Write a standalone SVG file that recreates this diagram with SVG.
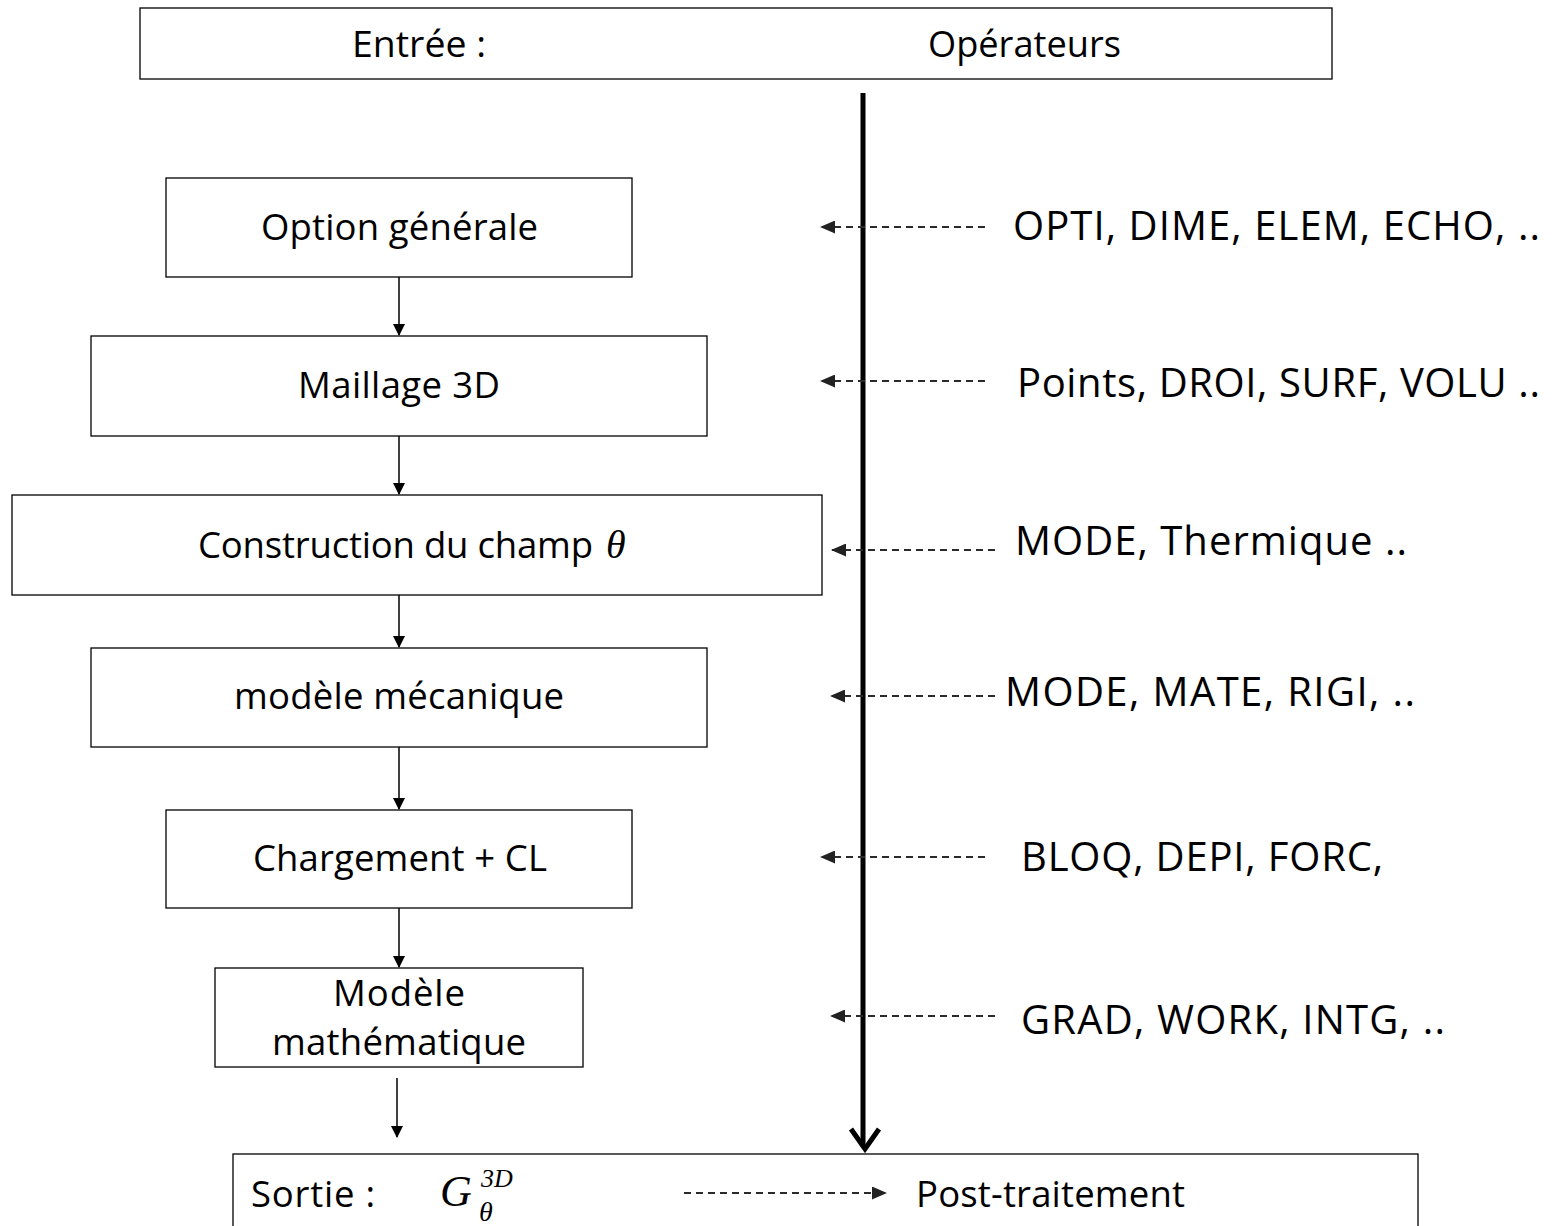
<svg xmlns="http://www.w3.org/2000/svg" width="1556" height="1226" viewBox="0 0 1556 1226">
<style>
.box{fill:#fff;stroke:#000;stroke-width:1.3}
.t{font-family:"Open Sans","Liberation Sans",sans-serif;font-size:36.5px;fill:#000}
.op{font-family:"Open Sans","Liberation Sans",sans-serif;font-size:40px;fill:#000}
.m{font-family:"Liberation Serif","DejaVu Serif",serif;font-style:italic;fill:#000}
.dash{stroke:#2a2a2a;stroke-width:1.8;stroke-dasharray:7 5;fill:none}
.flow{stroke:#000;stroke-width:1.5;fill:none}
</style>
<defs>
<marker id="ah" markerWidth="12" markerHeight="12" refX="11" refY="6" orient="auto" markerUnits="userSpaceOnUse" viewBox="0 0 12 12">
<path d="M0,0 L12,6 L0,12 Z" fill="#000"/>
</marker>
<marker id="dh" markerWidth="15" markerHeight="13" refX="14" refY="6.5" orient="auto" markerUnits="userSpaceOnUse" viewBox="0 0 15 13">
<path d="M0,0 L15,6.5 L0,13 Z" fill="#222"/>
</marker>
</defs>

<g id="header">
<rect class="box" x="140" y="8" width="1192" height="71"/>
<text class="t" x="352" y="57" textLength="134" lengthAdjust="spacingAndGlyphs">Entrée :</text>
<text class="t" x="928" y="57" textLength="193" lengthAdjust="spacingAndGlyphs">Opérateurs</text>
</g>

<g id="n1">
<rect class="box" x="166" y="178" width="466" height="99"/>
<text class="t" x="261" y="240" textLength="277">Option générale</text>
</g>
<g id="n2">
<rect class="box" x="91" y="336" width="616" height="100"/>
<text class="t" x="298" y="398" textLength="202">Maillage 3D</text>
</g>
<g id="n3">
<rect class="box" x="12" y="495" width="810" height="100"/>
<text class="t" x="198" y="558" textLength="395">Construction du champ</text>
<text class="m" x="606" y="558" font-size="40">θ</text>
</g>
<g id="n4">
<rect class="box" x="91" y="648" width="616" height="99"/>
<text class="t" x="234" y="709" textLength="330">modèle mécanique</text>
</g>
<g id="n5">
<rect class="box" x="166" y="810" width="466" height="98"/>
<text class="t" x="253" y="871" textLength="294">Chargement + CL</text>
</g>
<g id="n6">
<rect class="box" x="215" y="968" width="368" height="99"/>
<text class="t" x="333" y="1006" textLength="132">Modèle</text>
<text class="t" x="272" y="1055" textLength="254">mathématique</text>
</g>
<g id="n7">
<rect class="box" x="233" y="1154" width="1185" height="80"/>
<text class="t" x="251" y="1207" textLength="124">Sortie :</text>
<text class="m" x="440" y="1206" font-size="44">G</text>
<text class="m" x="481" y="1187" font-size="26">3D</text>
<text class="m" x="479" y="1221" font-size="28">θ</text>
<text class="t" x="916" y="1207" textLength="269">Post-traitement</text>
</g>

<g id="operators">
<text class="op" x="1013" y="240" textLength="527">OPTI, DIME, ELEM, ECHO, ..</text>
<text class="op" x="1017" y="397" textLength="523">Points, DROI, SURF, VOLU ..</text>
<text class="op" x="1015" y="555" textLength="392">MODE, Thermique ..</text>
<text class="op" x="1005" y="706" textLength="410">MODE, MATE, RIGI, ..</text>
<text class="op" x="1021" y="871" textLength="362">BLOQ, DEPI, FORC,</text>
<text class="op" x="1021" y="1034" textLength="424">GRAD, WORK, INTG, ..</text>
</g>

<g id="connectors">
<line x1="863" y1="93" x2="863" y2="1146" stroke="#000" stroke-width="5"/>
<polyline points="851,1129 865,1149 879,1129" fill="none" stroke="#000" stroke-width="5" stroke-linejoin="miter"/>
<line class="flow" x1="399" y1="277" x2="399" y2="335" marker-end="url(#ah)"/>
<line class="flow" x1="399" y1="436" x2="399" y2="494" marker-end="url(#ah)"/>
<line class="flow" x1="399" y1="595" x2="399" y2="647" marker-end="url(#ah)"/>
<line class="flow" x1="399" y1="747" x2="399" y2="809" marker-end="url(#ah)"/>
<line class="flow" x1="399" y1="908" x2="399" y2="967" marker-end="url(#ah)"/>
<line class="flow" x1="397" y1="1078" x2="397" y2="1137" marker-end="url(#ah)"/>
<line class="dash" x1="985" y1="227" x2="821" y2="227" marker-end="url(#dh)"/>
<line class="dash" x1="985" y1="381" x2="821" y2="381" marker-end="url(#dh)"/>
<line class="dash" x1="995" y1="550" x2="832" y2="550" marker-end="url(#dh)"/>
<line class="dash" x1="995" y1="696" x2="831" y2="696" marker-end="url(#dh)"/>
<line class="dash" x1="985" y1="857" x2="821" y2="857" marker-end="url(#dh)"/>
<line class="dash" x1="995" y1="1016" x2="831" y2="1016" marker-end="url(#dh)"/>
<line class="dash" x1="684" y1="1193" x2="886" y2="1193" marker-end="url(#dh)"/>
</g>
</svg>
